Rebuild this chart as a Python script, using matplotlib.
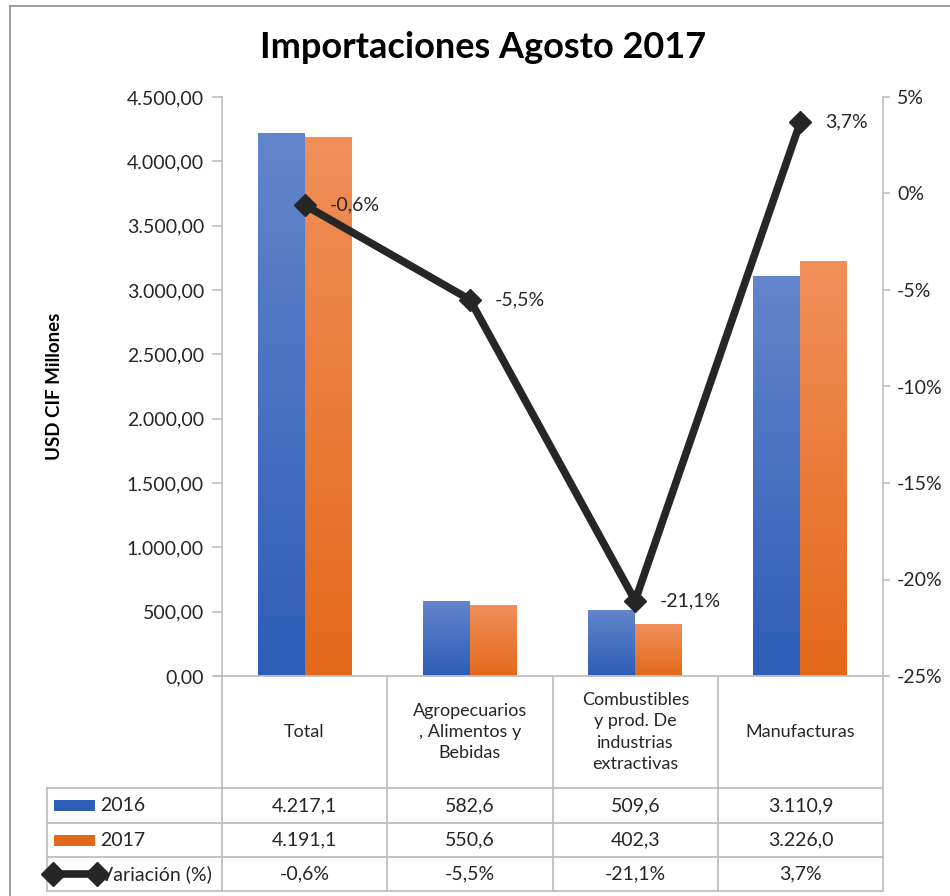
import matplotlib.pyplot as plt
import numpy as np
from matplotlib.colors import LinearSegmentedColormap
from matplotlib.lines import Line2D
from matplotlib.patches import Rectangle

plt.rcParams["font.family"] = ["Lato", "DejaVu Sans"]

W, H = 950, 896

categories = ["Total", "Agropecuarios\n, Alimentos y\nBebidas",
              "Combustibles\ny prod. De\nindustrias\nextractivas",
              "Manufacturas"]
imp_2016 = [4217.1, 582.6, 509.6, 3110.9]
imp_2017 = [4191.1, 550.6, 402.3, 3226.0]
variacion = [-0.6, -5.5, -21.1, 3.7]

left_ticks = [0, 500, 1000, 1500, 2000, 2500, 3000, 3500, 4000, 4500]
right_ticks = [5, 0, -5, -10, -15, -20, -25]

BLUE = ("#6385CB", "#2D5DB6")    # top, bottom
ORANGE = ("#F18F5A", "#E3691A")
LINE = "#262626"
GRID = "#BFBFBF"
TXT = "#262626"
FS = 14


def es_num(v, dec=1):
    s = f"{v:,.{dec}f}"
    return s.replace(",", "X").replace(".", ",").replace("X", ".")


def px(x, y):
    return x / W, 1 - y / H


def gradient_bar(ax, rect, top, bottom):
    x, y = rect.get_xy()
    w, h = rect.get_width(), rect.get_height()
    cmap = LinearSegmentedColormap.from_list("g", [bottom, top])
    grad = np.linspace(0, 1, 256).reshape(-1, 1)
    im = ax.imshow(grad, extent=[x, x + w, y, y + h], origin="lower",
                   aspect="auto", cmap=cmap, zorder=2)
    im.set_clip_path(rect)


fig = plt.figure(figsize=(W / 100, H / 100), dpi=100)
x0, y0 = px(222, 676)
x1, y1 = px(883, 97)
ax = fig.add_axes([x0, y0, x1 - x0, y1 - y0])

xpos = np.arange(len(categories))
bw = 0.284
bars16 = ax.bar(xpos - bw / 2, imp_2016, bw, color="none", zorder=2)
bars17 = ax.bar(xpos + bw / 2, imp_2017, bw, color="none", zorder=2)
for r in bars16:
    gradient_bar(ax, r, *BLUE)
for r in bars17:
    gradient_bar(ax, r, *ORANGE)

ax.set_xlim(-0.5, len(categories) - 0.5)
ax.set_ylim(0, 4500)
ax.set_yticks(left_ticks)
ax.set_yticklabels([es_num(v, 2) for v in left_ticks])
ax.set_xticks([])
for s in ["top", "right"]:
    ax.spines[s].set_visible(False)
ax.spines["left"].set_color(GRID)
ax.spines["left"].set_linewidth(1.2)
ax.spines["bottom"].set_visible(False)
ax.tick_params(axis="y", colors=GRID, labelcolor=TXT, labelsize=FS,
               length=7, width=1.2, pad=6)
ax.set_ylabel("USD CIF Millones", fontsize=13.5, fontweight="bold",
              color="black", labelpad=46)

ax2 = ax.twinx()
ax2.set_ylim(-25, 5)
ax2.set_yticks(right_ticks)
ax2.set_yticklabels([f"{v}%" for v in right_ticks])
for s in ["top", "left", "bottom"]:
    ax2.spines[s].set_visible(False)
ax2.spines["right"].set_color(GRID)
ax2.spines["right"].set_linewidth(1.2)
ax2.tick_params(axis="y", colors=GRID, labelcolor=TXT, labelsize=FS,
                length=5, width=1.2, pad=5)
ax2.plot(xpos, variacion, color=LINE, lw=5.5, marker="D", markersize=11,
         zorder=5)
for xi, v in zip(xpos, variacion):
    ax2.annotate(es_num(v) + "%", (xi, v), xytext=(18, 0),
                 textcoords="offset points", va="center", ha="left",
                 fontsize=FS, color=TXT)

fig.text(483 / W, px(0, 48)[1], "Importaciones Agosto 2017", ha="center",
         va="center", fontsize=26, fontweight="bold", color="black")


def line(xa, ya, xb, yb, color=GRID, lw=1.3):
    fig.add_artist(Line2D([xa / W, xb / W], [1 - ya / H, 1 - yb / H],
                          color=color, lw=lw, transform=fig.transFigure))


# baseline / table top
line(215, 676, 888, 676)
# table grid
col_x = [222, 387, 553, 718, 883]
for cx in col_x:
    line(cx, 676, cx, 891)
line(47, 788, 47, 891)
for ry in [788, 823, 857, 891]:
    line(47, ry, 883, ry)

# header labels
for i, cat in enumerate(categories):
    cx = (col_x[i] + col_x[i + 1]) / 2
    fig.text(cx / W, 1 - 732 / H, cat, ha="center", va="center",
             fontsize=13, color=TXT, linespacing=1.4)

rows = [
    [es_num(v) for v in imp_2016],
    [es_num(v) for v in imp_2017],
    [es_num(v) + "%" for v in variacion],
]
row_y = [805.5, 840, 874]
for r, ry in zip(rows, row_y):
    for i, val in enumerate(r):
        cx = (col_x[i] + col_x[i + 1]) / 2
        fig.text(cx / W, 1 - ry / H, val, ha="center", va="center",
                 fontsize=FS, color=TXT)

# legend keys inside table
for (top, bottom), ry in zip([BLUE, ORANGE], row_y[:2]):
    fig.add_artist(Rectangle(px(54, ry + 5.5), 41 / W, 11 / H,
                             transform=fig.transFigure,
                             facecolor=bottom, edgecolor="none"))
for lbl, ry in zip(["2016", "2017"], row_y[:2]):
    fig.text(100 / W, 1 - ry / H, lbl, ha="left", va="center",
             fontsize=FS, color=TXT)
fig.text(100 / W, 1 - row_y[2] / H, "Variación (%)", ha="left",
         va="center", fontsize=FS, color=TXT)
fig.add_artist(Line2D([53 / W, 97 / W], [1 - row_y[2] / H] * 2, color=LINE,
                      lw=5.5, marker="D", markersize=12,
                      transform=fig.transFigure, zorder=5))

# outer chart border (top and left visible)
line(10, 6, 950, 6, color="#8C8C8C", lw=1.2)
line(10, 6, 10, 896, color="#8C8C8C", lw=1.2)

fig.savefig("out.png", dpi=100)
